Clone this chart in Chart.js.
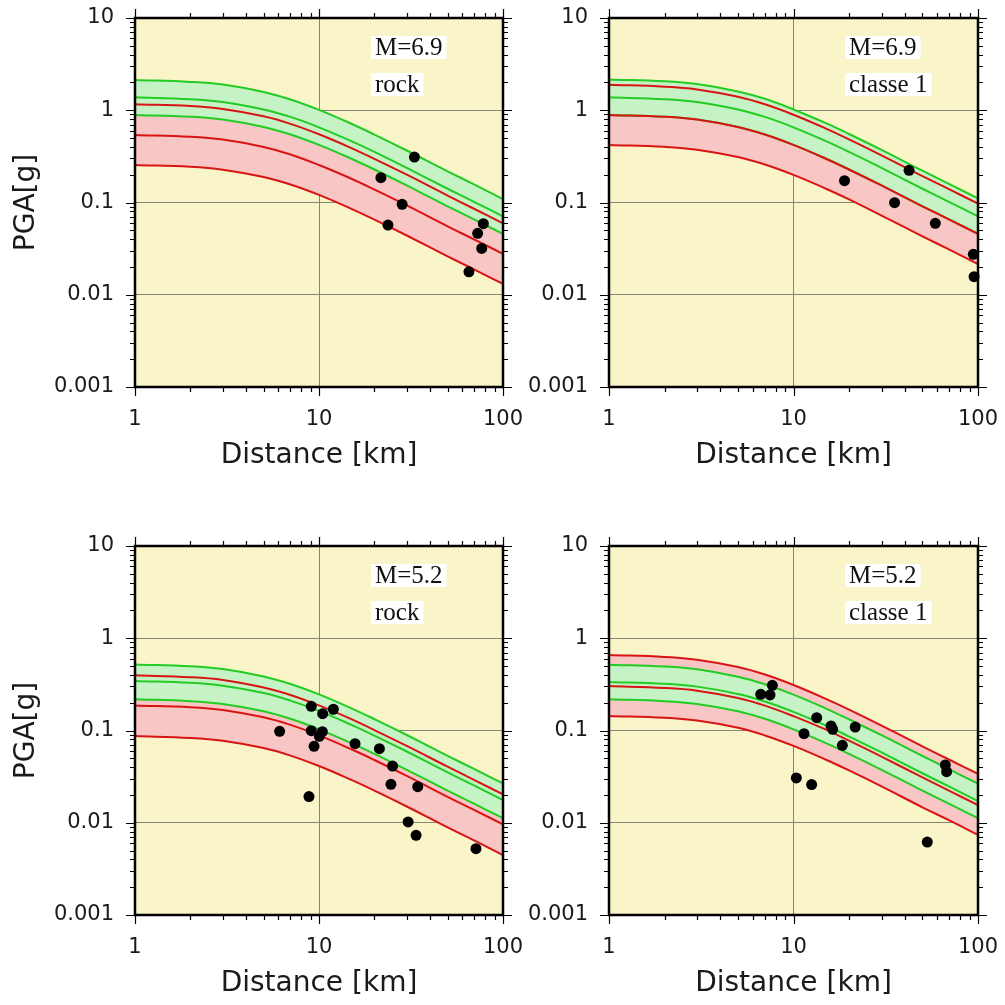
<!DOCTYPE html>
<html>
<head>
<meta charset="utf-8">
<script src="https://cdn.jsdelivr.net/npm/chart.js@4.4.1/dist/chart.umd.min.js"></script>
<style>
  body { margin: 0; background: #ffffff; }
  #wrap { position: relative; width: 1005px; height: 1005px; overflow: hidden; }
  canvas { position: absolute; }
</style>
</head>
<body>
<div id="wrap">
  <canvas id="g1" width="530" height="500" style="left:0px;top:0px"></canvas>
  <canvas id="g2" width="505" height="500" style="left:500px;top:0px"></canvas>
  <canvas id="g3" width="530" height="505" style="left:0px;top:500px"></canvas>
  <canvas id="g4" width="505" height="505" style="left:500px;top:500px"></canvas>
</div>
<script>

var distances = [1, 2, 3, 5, 7, 10, 15, 20, 30, 50, 70, 100];

var xTickValues = [1, 10, 100];
var xTickLabels = ['1', '10', '100'];
var yTickValues = [0.001, 0.01, 0.1, 1, 10];
var yTickLabels = ['0.001', '0.01', '0.1', '1', '10'];

// M=6.9 rock
var rockBigGreenHi  = [2.13, 2.03, 1.90, 1.58, 1.31, 1.01, 0.714, 0.545, 0.366, 0.218, 0.156, 0.109];
var rockBigGreenMid = [1.38, 1.32, 1.23, 1.02, 0.847, 0.653, 0.462, 0.353, 0.237, 0.141, 0.101, 0.0708];
var rockBigGreenLo  = [0.89, 0.85, 0.793, 0.659, 0.546, 0.421, 0.298, 0.228, 0.153, 0.091, 0.0652, 0.0457];
var rockBigRedHi    = [1.16, 1.11, 1.03, 0.86, 0.712, 0.549, 0.389, 0.297, 0.20, 0.119, 0.085, 0.0595];
var rockBigRedMid   = [0.54, 0.516, 0.481, 0.40, 0.332, 0.255, 0.181, 0.138, 0.0929, 0.0552, 0.0396, 0.0277];
var rockBigRedLo    = [0.255, 0.244, 0.227, 0.189, 0.157, 0.121, 0.0854, 0.0653, 0.0439, 0.0261, 0.0187, 0.0131];
var rockBigDist = [33.0, 21.7, 28.3, 23.7, 78.2, 72.8, 76.6, 65.3];
var rockBigPga  = [0.311, 0.186, 0.0955, 0.057, 0.059, 0.0463, 0.0318, 0.0177];

// M=6.9 classe 1
var clsBigGreenHi  = [2.16, 2.06, 1.92, 1.60, 1.33, 1.02, 0.724, 0.553, 0.372, 0.221, 0.158, 0.111];
var clsBigGreenMid = [1.38, 1.32, 1.23, 1.02, 0.847, 0.653, 0.462, 0.353, 0.237, 0.141, 0.101, 0.0708];
var clsBigGreenLo  = [0.89, 0.85, 0.793, 0.659, 0.546, 0.421, 0.298, 0.228, 0.153, 0.091, 0.0652, 0.0457];
var clsBigRedHi    = [1.89, 1.80, 1.68, 1.40, 1.16, 0.894, 0.633, 0.484, 0.325, 0.193, 0.139, 0.097];
var clsBigRedMid   = [0.89, 0.85, 0.793, 0.659, 0.546, 0.421, 0.298, 0.228, 0.153, 0.091, 0.0652, 0.0457];
var clsBigRedLo    = [0.42, 0.401, 0.374, 0.311, 0.258, 0.199, 0.141, 0.108, 0.0722, 0.043, 0.0308, 0.0215];
var clsBigDist = [42.3, 18.9, 35.3, 58.7, 94.3, 95.2];
var clsBigPga  = [0.223, 0.1725, 0.0995, 0.0595, 0.0274, 0.0157];

// M=5.2 rock
var rockSmGreenHi  = [0.52, 0.497, 0.463, 0.385, 0.319, 0.246, 0.174, 0.133, 0.0894, 0.0532, 0.0381, 0.0267];
var rockSmGreenMid = [0.344, 0.329, 0.306, 0.255, 0.211, 0.163, 0.115, 0.0881, 0.0592, 0.0352, 0.0252, 0.0176];
var rockSmGreenLo  = [0.218, 0.208, 0.194, 0.162, 0.134, 0.103, 0.073, 0.0558, 0.0375, 0.0223, 0.016, 0.0112];
var rockSmRedHi    = [0.396, 0.378, 0.353, 0.293, 0.243, 0.187, 0.133, 0.101, 0.0681, 0.0405, 0.029, 0.0203];
var rockSmRedMid   = [0.187, 0.179, 0.167, 0.139, 0.115, 0.0885, 0.0626, 0.0479, 0.0322, 0.0191, 0.0137, 0.0096];
var rockSmRedLo    = [0.087, 0.0831, 0.0775, 0.0645, 0.0534, 0.0412, 0.0291, 0.0223, 0.015, 0.0089, 0.0064, 0.00446];
var rockSmDist = [6.11, 9.08, 11.97, 10.47, 9.08, 10.43, 10.04, 9.4, 15.7, 21.3, 25.1, 24.6, 34.4, 8.82, 30.5, 33.7, 71.3];
var rockSmPga  = [0.098, 0.183, 0.17, 0.152, 0.0996, 0.097, 0.0865, 0.0673, 0.072, 0.0636, 0.0412, 0.0261, 0.0246, 0.0192, 0.0102, 0.0073, 0.00524];

// M=5.2 classe 1
var clsSmGreenHi  = [0.517, 0.494, 0.461, 0.383, 0.317, 0.245, 0.173, 0.132, 0.0889, 0.0529, 0.0379, 0.0265];
var clsSmGreenMid = [0.336, 0.321, 0.299, 0.249, 0.206, 0.159, 0.113, 0.086, 0.0578, 0.0344, 0.0246, 0.0172];
var clsSmGreenLo  = [0.218, 0.208, 0.194, 0.162, 0.134, 0.103, 0.073, 0.0558, 0.0375, 0.0223, 0.016, 0.0112];
var clsSmRedHi    = [0.658, 0.628, 0.586, 0.488, 0.404, 0.311, 0.22, 0.168, 0.113, 0.0673, 0.0482, 0.0338];
var clsSmRedMid   = [0.303, 0.289, 0.27, 0.225, 0.186, 0.143, 0.102, 0.0776, 0.0521, 0.031, 0.0222, 0.0155];
var clsSmRedLo    = [0.144, 0.1375, 0.128, 0.107, 0.0884, 0.0681, 0.0482, 0.0369, 0.0248, 0.0147, 0.0106, 0.00739];
var clsSmDist = [6.64, 7.46, 7.68, 13.36, 11.4, 15.97, 16.3, 21.6, 18.4, 10.36, 12.54, 66.5, 67.6, 53.1];
var clsSmPga  = [0.2466, 0.2427, 0.309, 0.1377, 0.0924, 0.112, 0.103, 0.109, 0.069, 0.0306, 0.0259, 0.0423, 0.0358, 0.00618];

var BG = '#faf5c8';
var GREEN = '#22cc22';
var RED = '#d81414';
var GREEN_FILL = '#c6f3c6';
var RED_FILL = '#f8c6c4';
var GRID = '#85857a';

Chart.defaults.font.family = '"DejaVu Sans", sans-serif';
Chart.defaults.color = '#1a1a1a';

function curve(values) {
	return values.map(function(v, i) { return {x: distances[i], y: v}; });
}

function pairs(xs, ys) {
	return xs.map(function(v, i) { return {x: v, y: ys[i]}; });
}

// frame, outside ticks on four sides, yellow background, text boxes
var framePlugin = {
	id: 'frame',
	beforeDraw: function(chart) {
		var a = chart.chartArea, ctx = chart.ctx;
		ctx.save();
		ctx.fillStyle = BG;
		ctx.fillRect(a.left, a.top, a.right - a.left, a.bottom - a.top);
		ctx.restore();
	},
	afterDraw: function(chart) {
		var a = chart.chartArea, ctx = chart.ctx;
		var xs = chart.scales.x, ys = chart.scales.y;
		ctx.save();
		ctx.strokeStyle = '#000';
		ctx.lineWidth = 1.2;
		ctx.beginPath();
		[1, 10].forEach(function(dec) {
			for (var k = 1; k <= 10; k++) {
				var v = dec * k;
				var px = Math.round(xs.getPixelForValue(v)) + 0.5;
				var len = (k == 1 || k == 10) ? 9 : 5;
				ctx.moveTo(px, a.bottom); ctx.lineTo(px, a.bottom + len);
				ctx.moveTo(px, a.top); ctx.lineTo(px, a.top - len);
			}
		});
		[0.001, 0.01, 0.1, 1].forEach(function(dec) {
			for (var k = 1; k <= 10; k++) {
				var v = dec * k;
				var py = Math.round(ys.getPixelForValue(v)) + 0.5;
				var len = (k == 1 || k == 10) ? 9 : 5;
				ctx.moveTo(a.left, py); ctx.lineTo(a.left - len, py);
				ctx.moveTo(a.right, py); ctx.lineTo(a.right + len, py);
			}
		});
		ctx.stroke();

		ctx.lineWidth = 2.5;
		ctx.strokeRect(a.left, a.top, a.right - a.left, a.bottom - a.top);

		var notes = chart.options.plugins.frame.notes;
		ctx.font = '25px "Liberation Serif", serif';
		ctx.textBaseline = 'alphabetic';
		notes.forEach(function(t, i) {
			var bx = a.left + 236;
			var by = a.top + 18 + i * 37;
			var w = ctx.measureText(t).width + 8;
			ctx.fillStyle = '#ffffff';
			ctx.fillRect(bx, by, w, 23);
			ctx.fillStyle = '#111';
			ctx.fillText(t, bx + 4, by + 19);
		});
		ctx.restore();
	}
};

function exibirPainel(id, p) {

	var datasets = [
		{data: pairs(p.dist, p.pga), showLine: false, pointRadius: 5.5, pointHoverRadius: 5.5,
			pointBackgroundColor: '#000', pointBorderWidth: 0, clip: false},
		{data: curve(p.redHi), borderColor: RED},
		{data: curve(p.redMid), borderColor: RED},
		{data: curve(p.redLo), borderColor: RED},
		{data: curve(p.greenHi), borderColor: GREEN},
		{data: curve(p.greenMid), borderColor: GREEN},
		{data: curve(p.greenLo), borderColor: GREEN},
		// bands (fill only)
		{data: curve(p.greenHi), borderWidth: 0, fill: 8, backgroundColor: GREEN_FILL},
		{data: curve(p.greenLo), borderWidth: 0},
		{data: curve(p.redHi), borderWidth: 0, fill: 10, backgroundColor: RED_FILL},
		{data: curve(p.redLo), borderWidth: 0}
	];
	for (var i = 1; i < datasets.length; i++) {
		datasets[i].pointRadius = 0;
		datasets[i].tension = 0.4;
		if (datasets[i].borderWidth === undefined) datasets[i].borderWidth = 2;
		if (datasets[i].fill === undefined) datasets[i].fill = false;
		if (datasets[i].borderWidth === 0) datasets[i].borderColor = 'rgba(0,0,0,0)';
	}

	var options = {
		responsive: false,
		animation: false,
		layout: {padding: p.padding},
		plugins: {
			legend: {display: false},
			tooltip: {enabled: false},
			filler: {drawTime: 'beforeDatasetsDraw'},
			frame: {notes: p.notes}
		},
		scales: {
			x: {
				type: 'logarithmic',
				min: 1, max: 100,
				border: {display: false},
				grid: {drawTicks: true, tickLength: 20, tickColor: 'rgba(0,0,0,0)', color: GRID, lineWidth: 1},
				afterBuildTicks: function(scale) {
					scale.ticks = xTickValues.map(function(v) { return {value: v}; });
				},
				afterFit: function(scale) { scale.height = 90; },
				ticks: {
					autoSkip: false, maxRotation: 0, padding: 0,
					font: {size: 21},
					callback: function(value) {
						var i = xTickValues.indexOf(value);
						return i >= 0 ? xTickLabels[i] : '';
					}
				},
				title: {display: true, text: 'Distance [km]', font: {size: 28}, padding: {top: 4, bottom: 4}}
			},
			y: {
				type: 'logarithmic',
				min: 0.001, max: 10,
				border: {display: false},
				grid: {drawTicks: true, tickLength: 21, tickColor: 'rgba(0,0,0,0)', color: GRID, lineWidth: 1},
				afterBuildTicks: function(scale) {
					scale.ticks = yTickValues.map(function(v) { return {value: v}; });
				},
				afterFit: function(scale) { scale.width = p.yWidth; },
				ticks: {
					autoSkip: false, padding: 0,
					font: {size: 21},
					callback: function(value) {
						var i = yTickValues.indexOf(value);
						return i >= 0 ? yTickLabels[i] : '';
					}
				},
				title: {display: p.yTitle, text: 'PGA[g]', font: {size: 28}, padding: {top: 10, bottom: 0}}
			}
		}
	};

	var ctx = document.getElementById(id).getContext('2d');
	new Chart(ctx, {type: 'line', data: {datasets: datasets}, options: options, plugins: [framePlugin]});
}

exibirPainel('g1', {
	greenHi: rockBigGreenHi, greenMid: rockBigGreenMid, greenLo: rockBigGreenLo,
	redHi: rockBigRedHi, redMid: rockBigRedMid, redLo: rockBigRedLo,
	dist: rockBigDist, pga: rockBigPga, notes: ['M=6.9', 'rock'],
	yWidth: 135, yTitle: true, padding: {left: 0, top: 18, right: 27, bottom: 23}
});
exibirPainel('g2', {
	greenHi: clsBigGreenHi, greenMid: clsBigGreenMid, greenLo: clsBigGreenLo,
	redHi: clsBigRedHi, redMid: clsBigRedMid, redLo: clsBigRedLo,
	dist: clsBigDist, pga: clsBigPga, notes: ['M=6.9', 'classe 1'],
	yWidth: 109, yTitle: false, padding: {left: 0, top: 18, right: 27, bottom: 23}
});
exibirPainel('g3', {
	greenHi: rockSmGreenHi, greenMid: rockSmGreenMid, greenLo: rockSmGreenLo,
	redHi: rockSmRedHi, redMid: rockSmRedMid, redLo: rockSmRedLo,
	dist: rockSmDist, pga: rockSmPga, notes: ['M=5.2', 'rock'],
	yWidth: 135, yTitle: true, padding: {left: 0, top: 46, right: 27, bottom: 0}
});
exibirPainel('g4', {
	greenHi: clsSmGreenHi, greenMid: clsSmGreenMid, greenLo: clsSmGreenLo,
	redHi: clsSmRedHi, redMid: clsSmRedMid, redLo: clsSmRedLo,
	dist: clsSmDist, pga: clsSmPga, notes: ['M=5.2', 'classe 1'],
	yWidth: 109, yTitle: false, padding: {left: 0, top: 46, right: 27, bottom: 0}
});

</script>
</body>
</html>
